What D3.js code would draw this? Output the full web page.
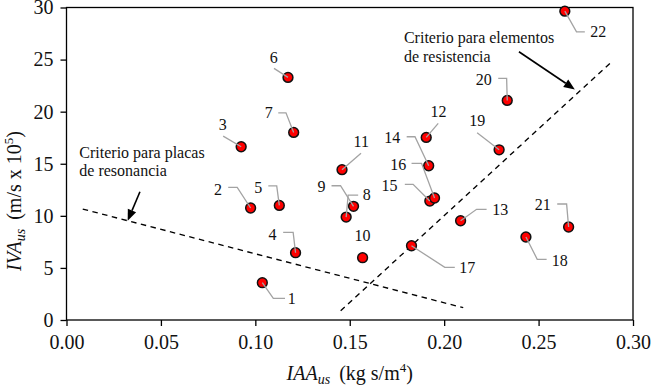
<!DOCTYPE html>
<html>
<head>
  <meta charset="utf-8" />
  <script src="https://d3js.org/d3.v7.min.js"></script>
  <title>IVA vs IAA</title>
  <style>
    body {
      margin: 0;
      background: #fff;
    }
  </style>
</head>
<body>
  <div id="container"></div>
  <script>
    // data
    var pointIds = [1, 2, 3, 4, 5, 6, 7, 8, 9, 10, 11, 12, 13, 14, 15, 16, 17, 18, 19, 20, 21, 22];
    var iaaValues = [
      0.1037, 0.0975, 0.0925, 0.1213, 0.1127, 0.1173, 0.1203, 0.1481, 0.152, 0.1568, 0.1459,
      0.1905, 0.2087, 0.1918, 0.1924, 0.1949, 0.1827, 0.2433, 0.2291, 0.2334, 0.2659, 0.2639,
    ];
    var ivaValues = [
      3.58, 10.75, 16.63, 6.46, 11.0, 23.29, 18.01, 9.88, 10.91, 5.98, 14.43,
      17.53, 9.53, 14.81, 11.42, 11.71, 7.13, 7.97, 16.34, 21.08, 8.93, 29.65,
    ];
    var xTicks = [0, 0.05, 0.1, 0.15, 0.2, 0.25, 0.3];
    var yTicks = [0, 5, 10, 15, 20, 25, 30];

    // criterion lines (dashed)
    var resonanceX = [0.0086, 0.2101];
    var resonanceY = [10.65, 1.18];
    var resistanceX = [0.1452, 0.2881];
    var resistanceY = [0.89, 24.69];

    // leader layout, pixels from point: elbow, end, label centre
    var leaderLayout = [
      [11, 15.6, 22.7, 15.6, 29.4, 15.8],
      [-13.4, -20.7, -22.4, -20.7, -32.7, -19],
      [-18, -10.7, -18, -10.7, -18.5, -22.2],
      [-2.4, -20.4, -12.4, -20.4, -23, -18.7],
      [-2.6, -19.6, -11, -19.6, -21, -18],
      [-14, -9, -14, -9, -14.3, -20],
      [-7.7, -19.6, -15.4, -19.6, -25, -20],
      [2, -22, 12, -22, 20.7, -22.3],
      [-13, -20.6, -22, -20.6, -32, -20],
      null,
      [19, -16.4, 19, -16.4, 19.3, -28.4],
      [12, -14, 12, -14, 12.2, -25.6],
      [16, -11.4, 26, -11.4, 39.6, -11.2],
      [-13.7, -29, -22, -29, -36.5, -27.9],
      [-16.7, -16.7, -25, -16.7, -40.3, -15.5],
      [-13, -34.7, -23, -34.7, -36.4, -33.3],
      [33.3, 21.6, 43.3, 21.6, 55.8, 22],
      [11.3, 22.3, 20.7, 22.3, 33.8, 23.5],
      [-22, -17, -22, -17, -21.8, -29.2],
      [-0.6, -22, -9, -22, -23.6, -21.5],
      [-2, -23, -11.4, -23, -25.9, -22.5],
      [11.7, 20.7, 20, 20.7, 33.3, 20.7],
    ];

    var serif = "Liberation Serif";
    var width = 651,
      height = 386;
    var margin = { top: 7.5, right: 18, bottom: 66, left: 66.5 };

    var x = d3.scaleLinear().domain([0, 0.3]).range([margin.left, width - margin.right]);
    var y = d3.scaleLinear().domain([0, 30]).range([height - margin.bottom, margin.top]);

    var svg = d3
      .select("#container")
      .append("svg")
      .attr("width", width)
      .attr("height", height)
      .attr("font-family", serif);

    svg
      .append("rect")
      .attr("x", x(0))
      .attr("y", y(30))
      .attr("width", x(0.3) - x(0))
      .attr("height", y(0) - y(30))
      .style("fill", "none")
      .style("stroke", "#000")
      .style("stroke-width", 1.3);

    var xAxis = svg
      .append("g")
      .attr("transform", "translate(0," + y(0) + ")")
      .call(
        d3.axisBottom(x).tickValues(xTicks).tickFormat(d3.format(".2f")).tickSize(6).tickPadding(9)
      );
    var yAxis = svg
      .append("g")
      .attr("transform", "translate(" + x(0) + ",0)")
      .call(d3.axisLeft(y).tickValues(yTicks).tickFormat(d3.format("d")).tickSize(6).tickPadding(7));

    [xAxis, yAxis].forEach(function (g) {
      g.attr("font-family", serif).attr("font-size", 20);
      g.select(".domain").remove();
      g.selectAll(".tick line").style("stroke", "#000").style("stroke-width", 1.3);
      g.selectAll(".tick text")
        .style("font-family", serif)
        .style("font-size", "20px")
        .style("fill", "#111");
    });

    // criterion lines
    var line = d3
      .line()
      .x((d) => x(d[0]))
      .y((d) => y(d[1]));
    [
      [resonanceX, resonanceY],
      [resistanceX, resistanceY],
    ].forEach(function (c) {
      svg
        .append("path")
        .attr("d", line(d3.zip(c[0], c[1])))
        .style("fill", "none")
        .style("stroke", "#000")
        .style("stroke-width", 1.35)
        .style("stroke-dasharray", "5.5,4.5");
    });

    // annotations
    var notes = [
      { lines: ["Criterio para placas", "de resonancia"], x: 0.0068, y: 15.6, from: [0.0389, 12.31], to: [0.0324, 9.53] },
      { lines: ["Criterio para elementos", "de resistencia"], x: 0.1787, y: 26.61, from: [0.2396, 25.75], to: [0.2692, 22.14] },
    ];
    notes.forEach(function (n) {
      var t = svg
        .append("text")
        .attr("x", x(n.x))
        .attr("y", y(n.y))
        .style("font-family", serif)
        .style("font-size", "16px")
        .style("fill", "#111");
      n.lines.forEach(function (l, i) {
        t.append("tspan")
          .attr("x", x(n.x))
          .attr("dy", i == 0 ? 0 : 18.8)
          .text(l);
      });
      var x1 = x(n.from[0]),
        y1 = y(n.from[1]),
        x2 = x(n.to[0]),
        y2 = y(n.to[1]);
      var ang = Math.atan2(y2 - y1, x2 - x1);
      var len = 11,
        hw = 4.5;
      var bx = x2 - len * Math.cos(ang),
        by = y2 - len * Math.sin(ang);
      svg
        .append("line")
        .attr("x1", x1)
        .attr("y1", y1)
        .attr("x2", bx)
        .attr("y2", by)
        .style("stroke", "#000")
        .style("stroke-width", 1.6);
      svg
        .append("path")
        .attr(
          "d",
          "M" + x2 + "," + y2 +
            "L" + (bx - hw * Math.sin(ang)) + "," + (by + hw * Math.cos(ang)) +
            "L" + (bx + hw * Math.sin(ang)) + "," + (by - hw * Math.cos(ang)) + "Z"
        )
        .style("fill", "#000");
    });

    // points
    var points = pointIds.map(function (id, i) {
      return { id: id, iaa: iaaValues[i], iva: ivaValues[i], lay: leaderLayout[i] };
    });

    svg
      .selectAll("circle.pt")
      .data(points)
      .enter()
      .append("circle")
      .attr("class", "pt")
      .attr("cx", (d) => x(d.iaa))
      .attr("cy", (d) => y(d.iva))
      .attr("r", 4.9)
      .style("fill", "#ff0000")
      .style("stroke", "#111")
      .style("stroke-width", 1.5);

    svg
      .selectAll("path.leader")
      .data(points.filter((d) => d.lay))
      .enter()
      .append("path")
      .attr("class", "leader")
      .attr("d", function (d) {
        var px = x(d.iaa),
          py = y(d.iva),
          l = d.lay;
        return "M" + px + "," + py + "L" + (px + l[0]) + "," + (py + l[1]) + "L" + (px + l[2]) + "," + (py + l[3]);
      })
      .style("fill", "none")
      .style("stroke", "#a3a3a3")
      .style("stroke-width", 1.3);

    svg
      .selectAll("text.lbl")
      .data(points)
      .enter()
      .append("text")
      .attr("class", "lbl")
      .attr("x", (d) => x(d.iaa) + (d.lay ? d.lay[4] : 0))
      .attr("y", (d) => y(d.iva) + (d.lay ? d.lay[5] : -22.4))
      .attr("dy", "0.35em")
      .attr("text-anchor", "middle")
      .style("font-family", serif)
      .style("font-size", "16px")
      .style("fill", "#111")
      .text((d) => d.id);

    // axis titles
    var xt = svg
      .append("text")
      .attr("x", (x(0) + x(0.3)) / 2)
      .attr("y", 380)
      .attr("text-anchor", "middle")
      .style("font-family", serif)
      .style("font-size", "20px")
      .style("fill", "#111");
    xt.append("tspan").style("font-style", "italic").text("IAA");
    xt.append("tspan").style("font-style", "italic").style("font-size", "14px").attr("dy", 4).text("us");
    xt.append("tspan").attr("dy", -4).attr("dx", 9).text("(kg s/m");
    xt.append("tspan").style("font-size", "13px").attr("dy", -8).text("4");
    xt.append("tspan").attr("dy", 8).text(")");

    var yt = svg
      .append("text")
      .attr("transform", "translate(20.5,201) rotate(-90)")
      .attr("text-anchor", "middle")
      .style("font-family", serif)
      .style("font-size", "20px")
      .style("fill", "#111");
    yt.append("tspan").style("font-style", "italic").text("IVA");
    yt.append("tspan").style("font-style", "italic").style("font-size", "14px").attr("dy", 4).text("us");
    yt.append("tspan").attr("dy", -4).attr("dx", 9).text("(m/s x 10");
    yt.append("tspan").style("font-size", "13px").attr("dy", -8).text("5");
    yt.append("tspan").attr("dy", 8).text(")");
  </script>
</body>
</html>
